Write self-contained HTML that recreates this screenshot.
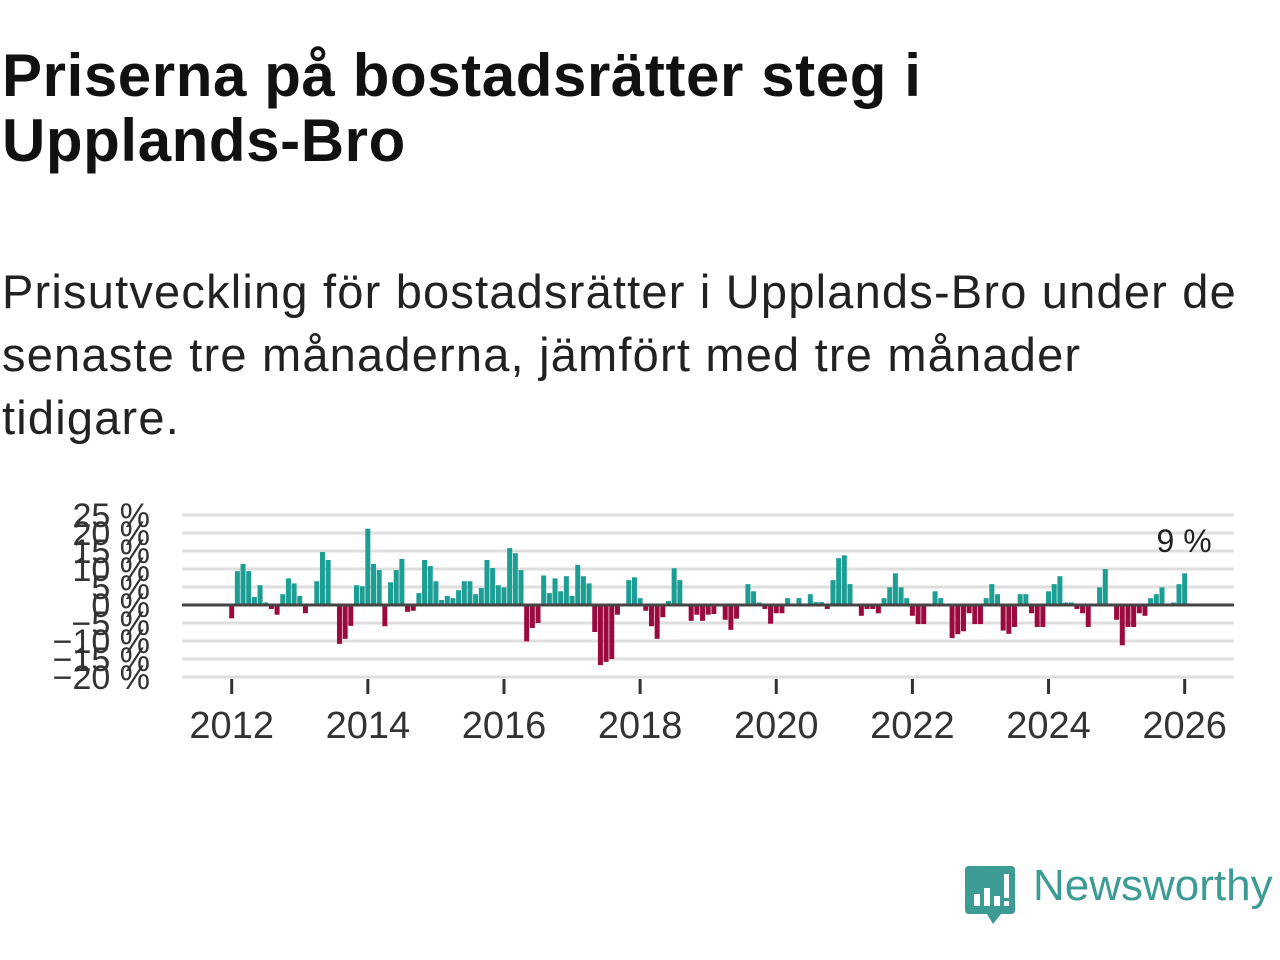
<!DOCTYPE html>
<html><head><meta charset="utf-8"><style>
body{margin:0;width:1280px;height:960px;background:#fff;overflow:hidden;font-family:"Liberation Sans","DejaVu Sans",sans-serif;color:#111}
h1{position:absolute;left:2px;top:43px;margin:0;font-size:60px;line-height:65px;font-weight:bold;letter-spacing:0.6px;color:#111;white-space:nowrap}
p.sub{position:absolute;left:2px;top:260px;margin:0;font-size:47px;line-height:63px;letter-spacing:1.2px;color:#222;white-space:nowrap}
svg{position:absolute;left:0;top:0}
</style></head><body>
<h1>Priserna på bostadsrätter steg i<br>Upplands-Bro</h1>
<p class="sub">Prisutveckling för bostadsrätter i Upplands-Bro under de<br>senaste tre månaderna, jämfört med tre månader<br>tidigare.</p>
<svg id="chart" width="1280" height="960"></svg>
<div style="position:absolute;left:965px;top:866px;">
<svg width="52" height="60" viewBox="0 0 52 60" style="position:absolute;left:0;top:0"><path d="M4 0H46Q50 0 50 4V44Q50 48 46 48H36L28 58L22 48H4Q0 48 0 44V4Q0 0 4 0Z" fill="#3c9c94"/><rect x="9" y="28" width="6" height="12" fill="#fff"/><rect x="19" y="22" width="6" height="18" fill="#fff"/><rect x="29" y="30" width="6" height="10" fill="#fff"/><rect x="39" y="8" width="5" height="24" fill="#fff"/><rect x="39" y="35" width="5" height="5" fill="#fff"/></svg>
<span style="position:absolute;left:68px;top:-5px;font-size:44px;color:#3c9c94;white-space:nowrap">Newsworthy</span></div>
<script>
const values=[-3.7,9.4,11.4,9.4,2.2,5.5,0.7,-1.1,-2.7,3.0,7.4,6.0,2.5,-2.3,0,6.6,14.7,12.5,0,-10.8,-9.4,-5.8,5.5,5.2,
21.2,11.4,9.7,-5.9,6.3,9.7,12.8,-1.9,-1.6,3.3,12.5,10.8,6.6,1.4,2.5,1.9,4.1,6.6,6.6,3.0,4.7,12.5,10.3,5.5,
4.9,15.8,14.4,9.7,-10.1,-6.4,-5.0,8.2,3.3,7.4,3.8,8.0,2.5,11.1,8.0,6.0,-7.5,-16.7,-15.8,-15.0,-2.7,0,6.9,7.7,
1.9,-1.6,-5.9,-9.4,-3.4,1.1,10.2,6.9,0,-4.4,-2.7,-4.4,-2.7,-2.5,0,-4.1,-6.9,-3.8,0,5.8,3.8,0.7,-1.1,-5.2,
-2.3,-2.3,1.9,0,1.9,0,3.0,0.8,0.8,-1.1,6.9,13.0,13.8,5.8,0,-3.0,-1.1,-1.1,-2.3,1.9,4.9,8.8,4.9,1.9,
-3.0,-5.3,-5.3,0,3.8,1.9,0,-9.2,-8.1,-7.3,-2.3,-5.3,-5.3,1.9,5.8,3.0,-7.1,-8.0,-6.1,3.0,3.0,-2.3,-6.1,-6.1,
3.8,5.8,8.0,0.7,0.7,-1.1,-2.3,-6.1,0.3,4.9,10.0,0,-4.1,-11.2,-6.1,-6.1,-2.3,-3.0,1.9,3.0,4.9,0,0.7,5.8,8.8];
const startYear=2012;
const yTicks=[-20,-15,-10,-5,0,5,10,15,20,25];
const xTicks=[2012,2014,2016,2018,2020,2022,2024,2026];
const lastLabel="9 %";
const NS="http://www.w3.org/2000/svg";
const svg=document.getElementById('chart');
const x0=182,x1=1234;
function yS(v){return 605-v*3.6;}
function xS(yearFrac){return 231.7+(yearFrac-2012)*68.07;}
function mk(t,a){const e=document.createElementNS(NS,t);for(const k in a)e.setAttribute(k,a[k]);svg.appendChild(e);return e;}
yTicks.forEach(v=>{
  const g=mk('line',{x1:x0,x2:x1,y1:yS(v),y2:yS(v),stroke:'#dedede','stroke-width':3});
  
  
  const t=mk('text',{x:150,y:yS(v)+12,'text-anchor':'end','font-size':34,fill:'#333','font-family':'Liberation Sans, sans-serif'});
  t.textContent=(v<0?'\u2212'+(-v):v)+' %';
  
  
});
xTicks.forEach(y=>{
  const l=mk('line',{x1:xS(y),x2:xS(y),y1:679,y2:694,stroke:'#333','stroke-width':3});
  
  
  const t=mk('text',{x:xS(y),y:738,'text-anchor':'middle','font-size':38,fill:'#333','font-family':'Liberation Sans, sans-serif'});
  t.textContent=y;
  
  
});
values.forEach((v,i)=>{
  const cx=xS(startYear+i/12);
  const top=Math.min(yS(v),yS(0)),h=Math.abs(yS(v)-yS(0));
  const r=mk('rect',{x:cx-2.5,y:top,width:5,height:h,fill:v>=0?'#1c9e94':'#9b0a3f'});
  
  
});
const z=mk('line',{x1:x0,x2:x1,y1:yS(0),y2:yS(0),stroke:'#444','stroke-width':3});


const li=values.length-1;
const lb=mk('text',{x:xS(startYear+li/12)+27,y:552,'text-anchor':'end','font-size':32,fill:'#222','font-family':'Liberation Sans, sans-serif'});
lb.textContent=lastLabel;


</script>
</body></html>
